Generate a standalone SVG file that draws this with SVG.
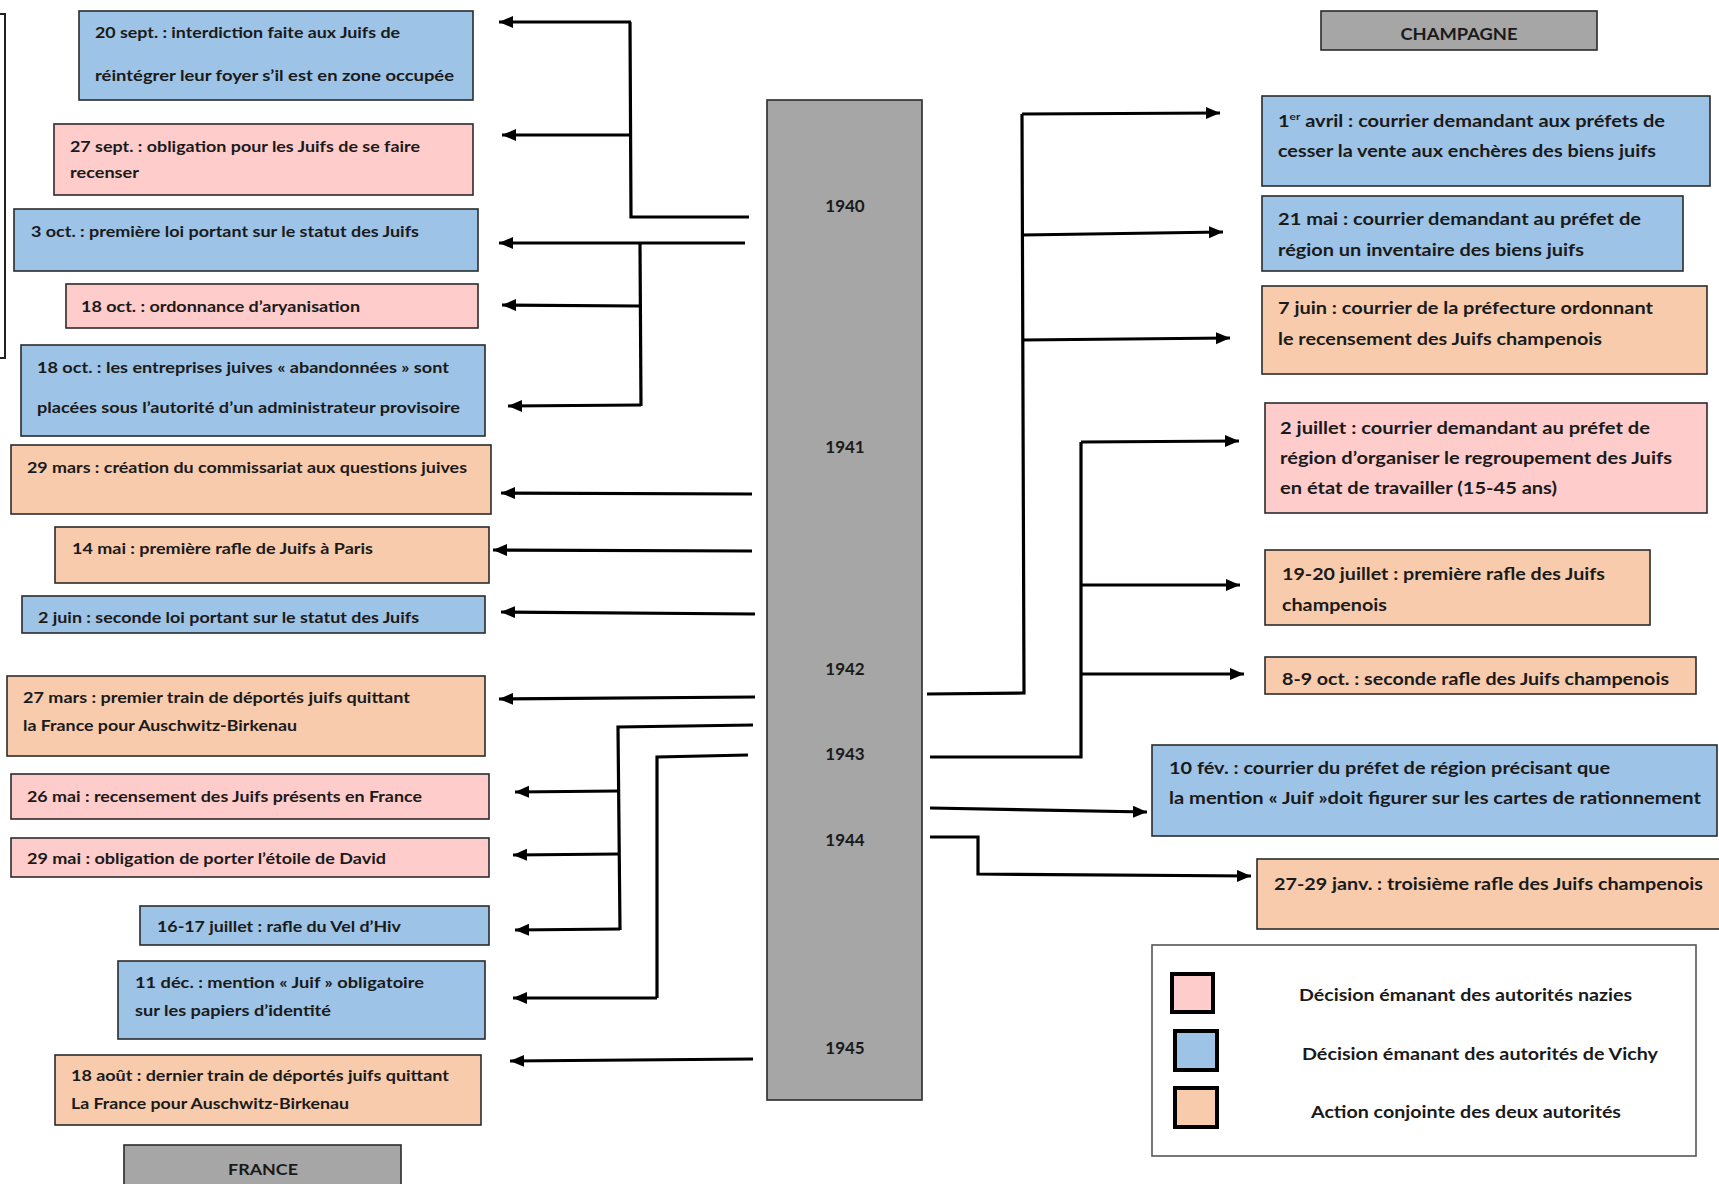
<svg xmlns="http://www.w3.org/2000/svg" width="1719" height="1184" viewBox="0 0 1719 1184">
<style>
text{font-family:Lato,"Liberation Sans",sans-serif;font-weight:bold;font-size:16px;fill:#1a1a1a}
.b{fill:#9dc3e6;stroke:#2b2b2b;stroke-width:1.6}
.p{fill:#ffcccc;stroke:#2b2b2b;stroke-width:1.6}
.o{fill:#f8cbad;stroke:#2b2b2b;stroke-width:1.6}
.g{fill:#a6a6a6;stroke:#2b2b2b;stroke-width:1.6}
.r text{font-size:17px}
.yr{font-size:17px;text-anchor:middle}
.c{fill:none;stroke:#000;stroke-width:3.2}
.a{marker-end:url(#ah)}
.sw{stroke:#000;stroke-width:4}
</style>
<defs>
<marker id="ah" markerUnits="userSpaceOnUse" markerWidth="16" markerHeight="14" refX="14" refY="6" orient="auto">
<path d="M0,0 L14,6 L0,12 z" fill="#000"/>
</marker>
</defs>
<rect width="1719" height="1184" fill="#fff"/>
<rect x="-100" y="14" width="105" height="344" fill="none" stroke="#222" stroke-width="2"/>

<g id="timeline">
<rect class="g" x="767" y="100" width="155" height="1000"/>
<text class="yr" x="845" y="212">1940</text>
<text class="yr" x="845" y="453">1941</text>
<text class="yr" x="845" y="675">1942</text>
<text class="yr" x="845" y="760">1943</text>
<text class="yr" x="845" y="846">1944</text>
<text class="yr" x="845" y="1054">1945</text>
</g>

<g id="n-20sept"><rect class="b" x="79" y="11" width="394" height="89"/>
<text x="95" y="38" textLength="305" lengthAdjust="spacingAndGlyphs">20 sept. : interdiction faite aux Juifs de</text>
<text x="95" y="81" textLength="359" lengthAdjust="spacingAndGlyphs">réintégrer leur foyer s’il est en zone occupée</text></g>

<g id="n-27sept"><rect class="p" x="54" y="124" width="419" height="71"/>
<text x="70" y="152" textLength="350" lengthAdjust="spacingAndGlyphs">27 sept. : obligation pour les Juifs de se faire</text>
<text x="70" y="178" textLength="69" lengthAdjust="spacingAndGlyphs">recenser</text></g>

<g id="n-3oct"><rect class="b" x="14" y="209" width="464" height="62"/>
<text x="31" y="237" textLength="388" lengthAdjust="spacingAndGlyphs">3 oct. : première loi portant sur le statut des Juifs</text></g>

<g id="n-18oct-a"><rect class="p" x="66" y="284" width="412" height="44"/>
<text x="81" y="312" textLength="279" lengthAdjust="spacingAndGlyphs">18 oct. : ordonnance d’aryanisation</text></g>

<g id="n-18oct-b"><rect class="b" x="21" y="345" width="464" height="91"/>
<text x="37" y="373" textLength="412" lengthAdjust="spacingAndGlyphs">18 oct. : les entreprises juives « abandonnées » sont</text>
<text x="37" y="413" textLength="423" lengthAdjust="spacingAndGlyphs">placées sous l’autorité d’un administrateur provisoire</text></g>

<g id="n-29mars"><rect class="o" x="11" y="445" width="480" height="69"/>
<text x="27" y="473" textLength="440" lengthAdjust="spacingAndGlyphs">29 mars : création du commissariat aux questions juives</text></g>

<g id="n-14mai"><rect class="o" x="55" y="527" width="434" height="56"/>
<text x="72" y="554" textLength="301" lengthAdjust="spacingAndGlyphs">14 mai : première rafle de Juifs à Paris</text></g>

<g id="n-2juin"><rect class="b" x="22" y="596" width="463" height="37"/>
<text x="38" y="623" textLength="381" lengthAdjust="spacingAndGlyphs">2 juin : seconde loi portant sur le statut des Juifs</text></g>

<g id="n-27mars"><rect class="o" x="7" y="676" width="478" height="80"/>
<text x="23" y="703" textLength="387" lengthAdjust="spacingAndGlyphs">27 mars : premier train de déportés juifs quittant</text>
<text x="23" y="731" textLength="274" lengthAdjust="spacingAndGlyphs">la France pour Auschwitz-Birkenau</text></g>

<g id="n-26mai"><rect class="p" x="11" y="774" width="478" height="45"/>
<text x="27" y="802" textLength="395" lengthAdjust="spacingAndGlyphs">26 mai : recensement des Juifs présents en France</text></g>

<g id="n-29mai"><rect class="p" x="11" y="838" width="478" height="39"/>
<text x="27" y="864" textLength="359" lengthAdjust="spacingAndGlyphs">29 mai : obligation de porter l’étoile de David</text></g>

<g id="n-vel"><rect class="b" x="140" y="906" width="349" height="39"/>
<text x="157" y="932" textLength="244" lengthAdjust="spacingAndGlyphs">16-17 juillet : rafle du Vel d’Hiv</text></g>

<g id="n-11dec"><rect class="b" x="118" y="961" width="367" height="78"/>
<text x="135" y="988" textLength="289" lengthAdjust="spacingAndGlyphs">11 déc. : mention « Juif » obligatoire</text>
<text x="135" y="1016" textLength="196" lengthAdjust="spacingAndGlyphs">sur les papiers d’identité</text></g>

<g id="n-18aout"><rect class="o" x="55" y="1055" width="426" height="70"/>
<text x="71" y="1081" textLength="378" lengthAdjust="spacingAndGlyphs">18 août : dernier train de déportés juifs quittant</text>
<text x="71" y="1109" textLength="278" lengthAdjust="spacingAndGlyphs">La France pour Auschwitz-Birkenau</text></g>

<g id="n-france"><rect class="g" x="124" y="1145" width="277" height="50"/>
<text x="263" y="1175" text-anchor="middle" textLength="70" lengthAdjust="spacingAndGlyphs">FRANCE</text></g>

<g class="r">
<g id="n-champagne"><rect class="g" x="1321" y="11" width="276" height="39"/>
<text x="1459" y="40" text-anchor="middle" textLength="117" lengthAdjust="spacingAndGlyphs">CHAMPAGNE</text></g>

<g id="n-1avril"><rect class="b" x="1262" y="96" width="448" height="90"/>
<text x="1278" y="127" textLength="387" lengthAdjust="spacingAndGlyphs">1<tspan font-size="10" dy="-7">er</tspan><tspan dy="7"> avril : courrier demandant aux préfets de</tspan></text>
<text x="1278" y="157" textLength="378" lengthAdjust="spacingAndGlyphs">cesser la vente aux enchères des biens juifs</text></g>

<g id="n-21mai"><rect class="b" x="1262" y="196" width="421" height="75"/>
<text x="1278" y="225" textLength="363" lengthAdjust="spacingAndGlyphs">21 mai : courrier demandant au préfet de</text>
<text x="1278" y="256" textLength="306" lengthAdjust="spacingAndGlyphs">région un inventaire des biens juifs</text></g>

<g id="n-7juin"><rect class="o" x="1262" y="286" width="445" height="88"/>
<text x="1278" y="314" textLength="375" lengthAdjust="spacingAndGlyphs">7 juin : courrier de la préfecture ordonnant</text>
<text x="1278" y="345" textLength="324" lengthAdjust="spacingAndGlyphs">le recensement des Juifs champenois</text></g>

<g id="n-2juillet"><rect class="p" x="1265" y="403" width="442" height="110"/>
<text x="1280" y="434" textLength="370" lengthAdjust="spacingAndGlyphs">2 juillet : courrier demandant au préfet de</text>
<text x="1280" y="464" textLength="392" lengthAdjust="spacingAndGlyphs">région d’organiser le regroupement des Juifs</text>
<text x="1280" y="494" textLength="277" lengthAdjust="spacingAndGlyphs">en état de travailler (15-45 ans)</text></g>

<g id="n-1920juillet"><rect class="o" x="1265" y="550" width="385" height="75"/>
<text x="1282" y="580" textLength="323" lengthAdjust="spacingAndGlyphs">19-20 juillet : première rafle des Juifs</text>
<text x="1282" y="611" textLength="105" lengthAdjust="spacingAndGlyphs">champenois</text></g>

<g id="n-89oct"><rect class="o" x="1265" y="657" width="431" height="37"/>
<text x="1282" y="685" textLength="387" lengthAdjust="spacingAndGlyphs">8-9 oct. : seconde rafle des Juifs champenois</text></g>

<g id="n-10fev"><rect class="b" x="1152" y="745" width="565" height="91"/>
<text x="1169" y="774" textLength="441" lengthAdjust="spacingAndGlyphs">10 fév. : courrier du préfet de région précisant que</text>
<text x="1169" y="804" textLength="532" lengthAdjust="spacingAndGlyphs">la mention « Juif »doit figurer sur les cartes de rationnement</text></g>

<g id="n-2729janv"><rect class="o" x="1257" y="859" width="470" height="70"/>
<text x="1274" y="890" textLength="429" lengthAdjust="spacingAndGlyphs">27-29 janv. : troisième rafle des Juifs champenois</text></g>

<g id="legend"><rect x="1152" y="945" width="544" height="211" fill="#fff" stroke="#555" stroke-width="1.6"/>
<rect class="sw" x="1172" y="974" width="41" height="38" fill="#ffcccc"/>
<rect class="sw" x="1175" y="1031" width="42" height="39" fill="#9dc3e6"/>
<rect class="sw" x="1175" y="1088" width="42" height="39" fill="#f8cbad"/>
<text x="1299" y="1001" textLength="333" lengthAdjust="spacingAndGlyphs">Décision émanant des autorités nazies</text>
<text x="1302" y="1060" textLength="356" lengthAdjust="spacingAndGlyphs">Décision émanant des autorités de Vichy</text>
<text x="1311" y="1118" textLength="310" lengthAdjust="spacingAndGlyphs">Action conjointe des deux autorités</text></g>
</g>

<g id="connectors">
<polyline class="c" points="749,217 631,217 630,22"/>
<line class="c a" x1="631" y1="22" x2="499" y2="22"/>
<line class="c a" x1="631" y1="135" x2="502" y2="135"/>
<line class="c a" x1="745" y1="243" x2="499" y2="243"/>
<line class="c" x1="640" y1="243" x2="641" y2="406"/>
<line class="c a" x1="639" y1="306" x2="502" y2="305"/>
<line class="c a" x1="641" y1="405" x2="508" y2="406"/>
<line class="c a" x1="752" y1="494" x2="501" y2="493"/>
<line class="c a" x1="752" y1="551" x2="493" y2="550"/>
<line class="c a" x1="755" y1="614" x2="501" y2="612"/>
<line class="c a" x1="755" y1="697" x2="499" y2="699"/>
<polyline class="c" points="753,725 618,727 620,930"/>
<line class="c a" x1="618" y1="791" x2="515" y2="792"/>
<line class="c a" x1="619" y1="854" x2="513" y2="855"/>
<line class="c a" x1="620" y1="929" x2="515" y2="930"/>
<polyline class="c" points="748,755 657,757 657,998"/>
<line class="c a" x1="657" y1="998" x2="513" y2="998"/>
<line class="c a" x1="753" y1="1059" x2="510" y2="1061"/>
<polyline class="c" points="927,694 1024,693 1022,114"/>
<line class="c a" x1="1022" y1="114" x2="1220" y2="113"/>
<line class="c a" x1="1022" y1="235" x2="1223" y2="232"/>
<line class="c a" x1="1022" y1="340" x2="1230" y2="338"/>
<polyline class="c" points="930,757 1081,757 1081,442"/>
<line class="c a" x1="1081" y1="442" x2="1239" y2="441"/>
<line class="c a" x1="1081" y1="585" x2="1240" y2="585"/>
<line class="c a" x1="1081" y1="674" x2="1244" y2="674"/>
<line class="c a" x1="930" y1="808" x2="1147" y2="812"/>
<polyline class="c a" points="930,837 978,837 978,874 1251,876"/>
</g>
</svg>
